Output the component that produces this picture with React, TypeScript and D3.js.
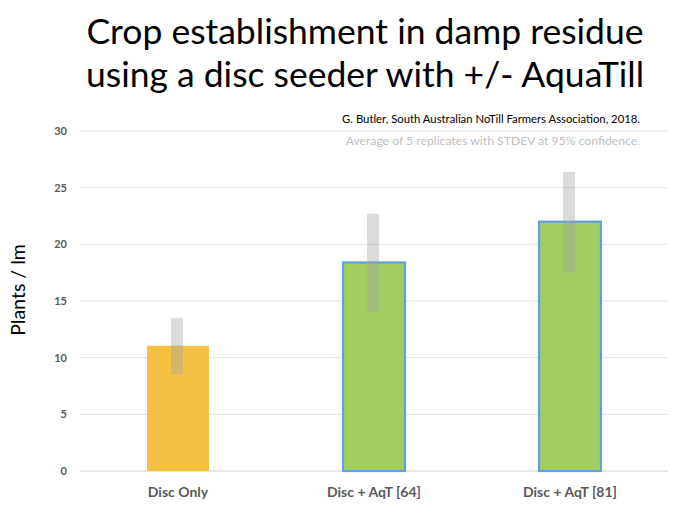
import React from "react";
import * as d3 from "d3";

const categories = ["Disc Only", "Disc + AqT [64]", "Disc + AqT [81]"];
const means = [11.05, 18.4, 22.0];
const errLow = [8.5, 14.1, 17.5];
const errHigh = [13.5, 22.7, 26.4];
const yTicks = [0, 5, 10, 15, 20, 25, 30];
const fills = ["#F4C142", "#A2CD63", "#A2CD63"];
const strokes = ["none", "#5BA3E0", "#5BA3E0"];

const W = 680;
const H = 524;
const margin = { left: 80, right: 12, top: 131, bottom: 53 };

export default function App() {
  const x = d3
    .scaleBand<string>()
    .domain(categories)
    .range([margin.left, W - margin.right])
    .paddingInner(0.684)
    .paddingOuter(0.342);
  const y = d3.scaleLinear().domain([0, 30]).range([H - margin.bottom, margin.top]);
  const font = "Lato, 'Open Sans', sans-serif";
  const errW = 12;

  return (
    <svg
      width={W}
      height={H}
      style={{ position: "absolute", left: 0, top: 0, background: "#fff" }}
      fontFamily={font}
    >
      <text x={365} y={44} textAnchor="middle" fontSize={35.5} fill="#000">
        Crop establishment in damp residue
      </text>
      <text x={365} y={87} textAnchor="middle" fontSize={35.5} fill="#000">
        using a disc seeder with +/- AquaTill
      </text>
      <text x={640} y={123} textAnchor="end" fontSize={11.3} fill="#000">
        G. Butler, South Australian NoTill Farmers Association, 2018.
      </text>
      <text x={640} y={145} textAnchor="end" fontSize={12.2} fill="#BFBFBF">
        Average of 5 replicates with STDEV at 95% confidence.
      </text>

      {yTicks.map((t) => (
        <g key={t}>
          <line
            x1={margin.left}
            x2={W - margin.right}
            y1={y(t)}
            y2={y(t)}
            stroke={t === 0 ? "#D0D0D0" : "#E3E3E3"}
            strokeWidth={1}
          />
          <text
            x={67}
            y={y(t)}
            dy="0.35em"
            textAnchor="end"
            fontSize={11}
            fontWeight="bold"
            fill="#595959"
          >
            {t}
          </text>
        </g>
      ))}

      {categories.map((c, i) => (
        <g key={c}>
          <rect
            x={x(c)!}
            y={y(means[i])}
            width={x.bandwidth()}
            height={y(0) - y(means[i])}
            fill={fills[i]}
            stroke={strokes[i]}
            strokeWidth={2.2}
          />
          <rect
            x={x(c)! + x.bandwidth() / 2 - errW / 2 - 1}
            y={y(errHigh[i])}
            width={errW}
            height={y(errLow[i]) - y(errHigh[i])}
            fill="#A6A6A6"
            opacity={0.4}
          />
          <text
            x={x(c)! + x.bandwidth() / 2}
            y={497}
            textAnchor="middle"
            fontSize={14}
            fontWeight="bold"
            fill="#595959"
          >
            {c}
          </text>
        </g>
      ))}

      <text
        transform={`translate(25, ${290}) rotate(-90)`}
        textAnchor="middle"
        fontSize={19.5}
        fill="#000"
      >
        Plants / lm
      </text>
    </svg>
  );
}
